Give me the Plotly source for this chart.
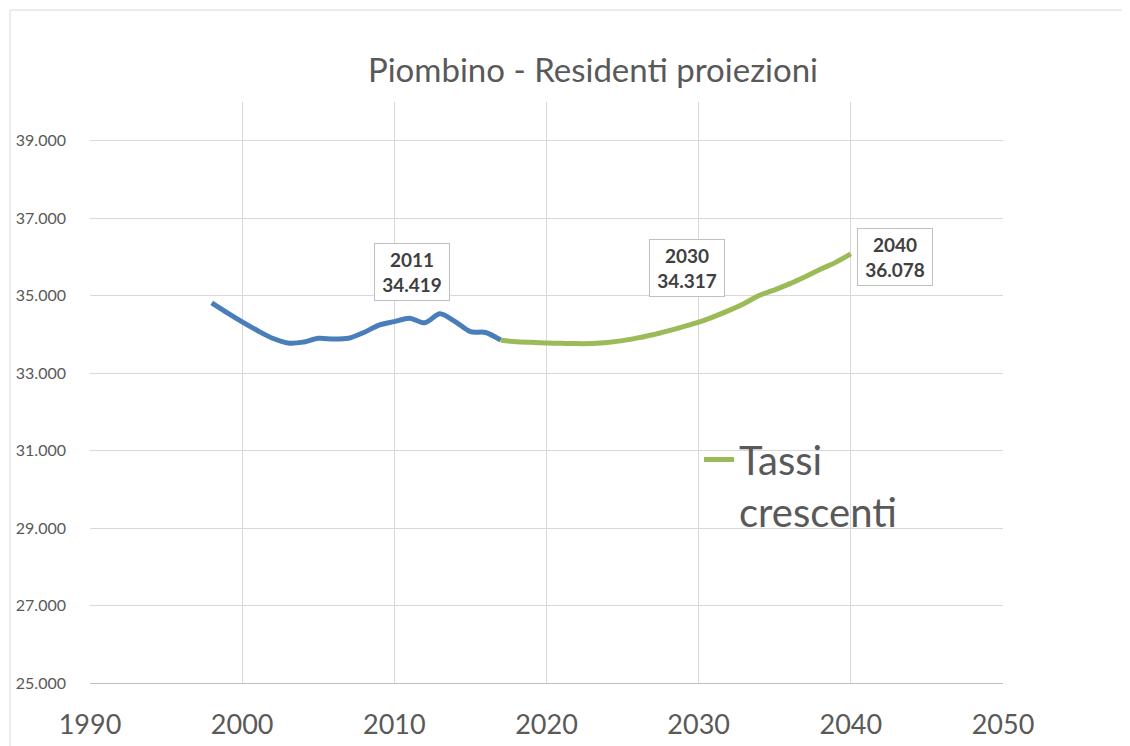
import plotly.graph_objects as go

# Historical residents (blue series)
hist_years = list(range(1998, 2018))
hist_values = [34812, 34560, 34322, 34100, 33900, 33780, 33800, 33900, 33880, 33900,
               34050, 34240, 34330, 34419, 34300, 34530, 34330, 34070, 34050, 33850]

# Projection "Tassi crescenti" (green series)
proj_years = list(range(2017, 2041))
proj_values = [33850, 33810, 33795, 33780, 33770, 33762, 33765, 33790, 33840, 33910,
               33990, 34090, 34200, 34317, 34460, 34620, 34800, 35010, 35150, 35310,
               35490, 35680, 35860, 36078]
proj_name = "Tassi crescenti"
legend_text = "Tassi<br>crescenti"

# Labelled points
label_years = [2011, 2030, 2040]

title_text = "Piombino - Residenti proiezioni"
x_ticks = [1990, 2000, 2010, 2020, 2030, 2040, 2050]
y_ticks = [25000, 27000, 29000, 31000, 33000, 35000, 37000, 39000]

FONT = "Lato, 'Open Sans', sans-serif"
TXT = "#595959"

# page body adds an 8px offset; margins compensate so the plot area sits at (90..1003, 102..683)
fig = go.Figure()
fig.add_trace(go.Scatter(x=hist_years, y=hist_values, mode="lines",
                         line=dict(color="#4A7EBB", width=5, shape="spline", smoothing=0.8),
                         showlegend=False, hoverinfo="x+y"))
fig.add_trace(go.Scatter(x=proj_years, y=proj_values, mode="lines", name=legend_text,
                         line=dict(color="#9BBB59", width=5, shape="spline", smoothing=0.8),
                         showlegend=True))

def value_at(year):
    if year in proj_years and year > hist_years[-1]:
        return proj_values[proj_years.index(year)]
    return hist_values[hist_years.index(year)]

offsets = {2011: (2, -46), 2030: (-12, -54), 2040: (44, 3)}
for yr in label_years:
    v = value_at(yr)
    txt = "<b>%d<br>%s</b>" % (yr, "{:,}".format(v).replace(",", "."))
    ax, ay = offsets[yr]
    fig.add_annotation(x=yr, y=v, xref="x", yref="y", text=txt, showarrow=True,
                       arrowcolor="rgba(0,0,0,0)", ax=ax, ay=ay,
                       font=dict(family=FONT, size=19, color="#404040"),
                       bgcolor="white", bordercolor="#BFBFBF", borderwidth=1, borderpad=4,
                       width=66, align="center")

# outer chart border
fig.add_shape(type="rect", xref="paper", yref="paper",
              x0=(10 - 90) / 913, x1=(1150 - 90) / 913,
              y0=(683 - 770) / 581, y1=(683 - 10) / 581,
              line=dict(color="#D9D9D9", width=1), fillcolor="rgba(0,0,0,0)", layer="below")

fig.update_layout(
    width=1130, height=746,
    margin=dict(l=82, r=135, t=94, b=71, autoexpand=False),
    paper_bgcolor="white", plot_bgcolor="white",
    separators=",.",
    title=dict(text=title_text, x=585 / 1130, xanchor="center", y=1 - 62 / 746, yanchor="middle",
               font=dict(family=FONT, size=33, color=TXT)),
    font=dict(family=FONT, color=TXT),
    xaxis=dict(range=[1990, 2050], tickvals=x_ticks, showgrid=True, gridcolor="#D9D9D9",
               gridwidth=1, zeroline=False, showline=True, linecolor="#BFBFBF", linewidth=1,
               ticks="", tickfont=dict(family=FONT, size=27, color=TXT),
               ticklabelstandoff=18, automargin=False),
    yaxis=dict(range=[25000, 40000], tickvals=y_ticks, tickformat=",.0f", showgrid=True,
               gridcolor="#D9D9D9", gridwidth=1, zeroline=False, showline=False, ticks="",
               tickfont=dict(family=FONT, size=16, color=TXT), ticklabelstandoff=23,
               automargin=False),
    legend=dict(x=(699 - 90) / 913, y=(683 - 427) / 581, xanchor="left", yanchor="top",
                font=dict(family=FONT, size=40, color=TXT), bgcolor="rgba(0,0,0,0)",
                valign="top", itemwidth=30, tracegroupgap=0),
)

fig.write_html("out.html")
